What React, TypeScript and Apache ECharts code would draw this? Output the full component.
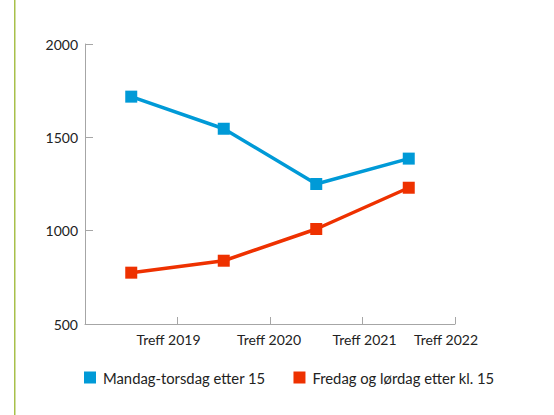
import React, { useEffect, useRef } from "react";
import * as echarts from "echarts";

const categories = ["Treff 2019", "Treff 2020", "Treff 2021", "Treff 2022"];
const tickLabels = ["", "Treff 2019", "Treff 2020", "Treff 2021", "Treff 2022"];
const seriesNames = ["Mandag-torsdag etter 15", "Fredag og lørdag etter kl. 15"];
const weekdayValues = [1718, 1546, 1250, 1386];
const weekendValues = [775, 839, 1009, 1230];
const yTicks = { min: 500, max: 2000, interval: 500 };

const FONT = "Lato, 'Open Sans', sans-serif";
const BLUE = "#009ad7";
const RED = "#ee3100";
const AXIS = "#a6a6a6";
const FS = 14;

export default function App() {
  const ref = useRef<HTMLDivElement>(null);
  useEffect(() => {
    if (!ref.current) return;
    const chart = echarts.init(ref.current, null, { renderer: "svg" });
    const r = (pad: number[]) => ({ fontFamily: FONT, fontSize: FS, color: "#222", padding: pad });
    chart.setOption({
      animation: false,
      backgroundColor: "#ffffff",
      textStyle: { fontFamily: FONT },
      grid: { left: 85, right: 99, top: 44, bottom: 91, containLabel: false },
      legend: {
        left: 84,
        top: 370,
        padding: 0,
        icon: "rect",
        itemWidth: 12,
        itemHeight: 12,
        itemGap: 28,
        textStyle: { fontFamily: FONT, fontSize: 14.8, color: "#222", padding: [0, 0, 0, 2] },
        data: seriesNames,
      },
      xAxis: [
        {
          type: "category",
          data: categories,
          boundaryGap: true,
          axisLine: { show: true, lineStyle: { color: AXIS, width: 1 } },
          axisTick: { show: true, inside: true, length: 7, lineStyle: { color: AXIS } },
          axisLabel: { show: false },
          splitLine: { show: false },
        },
        {
          type: "category",
          data: tickLabels,
          boundaryGap: false,
          position: "bottom",
          axisLine: { show: false },
          axisTick: { show: false },
          splitLine: { show: false },
          axisLabel: {
            show: true,
            interval: 0,
            margin: 8,
            fontFamily: FONT,
            fontSize: FS,
            color: "#222",
            formatter: (v: string, i: number) => (v ? `{l${i}|${v}}` : ""),
            rich: {
              l1: r([0, 18, 0, 0]),
              l2: r([0, 2, 0, 0]),
              l3: r([0, 0, 0, 4]),
              l4: r([0, 18, 0, 0]),
            },
          },
        },
      ],
      yAxis: {
        type: "value",
        min: yTicks.min,
        max: yTicks.max,
        interval: yTicks.interval,
        axisLine: { show: true, lineStyle: { color: AXIS, width: 1 } },
        axisTick: { show: true, inside: true, length: 8, lineStyle: { color: AXIS } },
        splitLine: { show: false },
        axisLabel: {
          margin: 7,
          fontFamily: FONT,
          fontSize: FS,
          color: "#222",
          formatter: (v: number) => String(v),
        },
      },
      series: [
        {
          name: seriesNames[0],
          type: "line",
          xAxisIndex: 0,
          data: weekdayValues,
          symbol: "rect",
          symbolSize: 12,
          lineStyle: { color: BLUE, width: 3.5 },
          itemStyle: { color: BLUE },
        },
        {
          name: seriesNames[1],
          type: "line",
          xAxisIndex: 0,
          data: weekendValues,
          symbol: "rect",
          symbolSize: 12,
          lineStyle: { color: RED, width: 3.5 },
          itemStyle: { color: RED },
        },
      ],
      graphic: [
        {
          type: "rect",
          shape: { x: 14, y: 0, width: 1.5, height: 415 },
          style: { fill: "#a8c04a" },
          silent: true,
        },
      ],
    });
    return () => chart.dispose();
  }, []);
  return (
    <div
      ref={ref}
      style={{ position: "absolute", left: 0, top: 0, width: 554, height: 415 }}
    />
  );
}
